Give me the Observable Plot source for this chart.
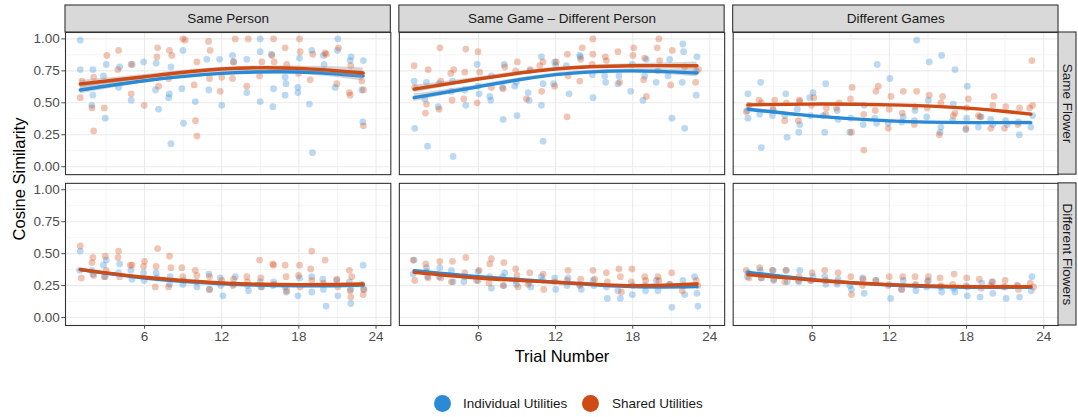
<!DOCTYPE html>
<html>
<head>
<meta charset="utf-8">
<script src="https://cdn.jsdelivr.net/npm/d3@7"></script>
<script src="https://cdn.jsdelivr.net/npm/@observablehq/plot@0.6"></script>
<style>
  body { margin: 0; background: #fff; font-family: "Liberation Sans", Arial, Helvetica, sans-serif; }
  #wrap { position: relative; width: 1078px; height: 417px; overflow: hidden; }
  #legend { position: absolute; left: 0; top: 390px; width: 1078px; height: 27px; font-size: 13.5px; color: #1a1a1a; }
  #legend .key { position: absolute; top: 5px; width: 17px; height: 17px; border-radius: 50%; }
  #legend .lab { position: absolute; top: 0; line-height: 27px; white-space: nowrap; }
</style>
</head>
<body>
<div id="wrap">
  <div id="chart"></div>
  <div id="legend"></div>
</div>
<script>
// ---------- categories ----------
const columns = ["Same Person", "Same Game – Different Person", "Different Games"];
const rows = ["Same Flower", "Different Flowers"];
const seriesNames = ["Individual Utilities", "Shared Utilities"];
const seriesColors = ["#2b8ad6", "#cf4a15"];

// ---------- axis ticks ----------
const xTicks = [6, 12, 18, 24];
const xMinorTicks = [3, 9, 15, 21];
const yTicks = [0, 0.25, 0.5, 0.75, 1];
const yMinorTicks = [0.125, 0.375, 0.625, 0.875];

// ---------- points: [trial (jittered), cosine similarity] ----------
// Same Person / Same Flower
const spSfInd = [[1.0,0.99],[1.0,0.76],[1.98,0.76],[1.98,0.56],[1.9,0.48],[3.02,0.8],[2.94,0.38],[2.8,0.71],[3.98,0.62],[4.06,0.78],[4.96,0.52],[5.04,0.8],[5.92,0.82],[6.9,0.81],[6.85,0.6],[7.09,0.45],[7.87,0.54],[8.05,0.18],[8.05,0.78],[7.92,0.57],[8.98,0.91],[8.9,0.61],[9.03,0.34],[9.94,0.51],[10.84,0.84],[11.0,0.6],[11.83,0.84],[12.0,0.48],[12.84,0.87],[12.92,0.82],[13.95,0.84],[13.95,0.58],[14.99,1.0],[14.99,0.9],[14.99,0.51],[15.87,0.88],[16.03,0.61],[15.97,0.47],[16.93,0.7],[17.0,0.65],[16.93,0.56],[17.92,0.62],[17.92,0.58],[18.05,0.85],[19.0,0.91],[18.82,0.49],[19.06,0.11],[19.9,0.87],[19.96,0.8],[21.03,1.0],[21.0,0.91],[20.82,0.62],[21.98,0.83],[22.06,0.86],[22.89,0.6],[22.97,0.35],[23.02,0.83]];
const spSfSh = [[1.0,0.54],[1.13,0.67],[2.04,0.7],[1.91,0.46],[2.04,0.28],[3.07,0.87],[2.87,0.46],[3.98,0.91],[3.93,0.76],[4.96,0.8],[4.96,0.57],[5.97,0.48],[7.01,0.93],[6.96,0.86],[7.09,0.63],[7.94,0.91],[8.12,0.87],[7.87,0.69],[8.98,1.0],[9.16,0.99],[9.86,0.64],[9.96,0.36],[10.07,0.24],[10.07,0.82],[10.97,0.98],[11.1,0.91],[11.05,0.69],[11.88,0.59],[12.0,0.7],[13.05,1.0],[12.92,0.82],[12.84,0.69],[14.06,1.0],[13.95,0.63],[14.94,0.71],[15.12,0.82],[16.03,1.0],[15.9,0.87],[16.08,0.82],[16.93,0.93],[17.06,0.8],[18.05,1.0],[18.1,0.9],[17.97,0.73],[18.88,0.68],[19.08,0.88],[20.04,0.89],[20.12,0.88],[21.08,0.93],[20.95,0.65],[21.98,0.56],[21.93,0.58],[22.04,0.79],[22.89,0.67],[23.02,0.6],[23.02,0.32]];
// Same Game – Different Person / Same Flower
const gsSfInd = [[1.0,0.67],[1.05,0.3],[1.96,0.66],[2.04,0.16],[1.83,0.53],[2.94,0.65],[2.87,0.47],[4.03,0.08],[3.98,0.67],[3.9,0.59],[4.94,0.6],[5.02,0.48],[5.9,0.8],[6.05,0.57],[5.97,0.63],[6.88,0.55],[6.96,0.52],[7.01,0.71],[7.92,0.37],[8.0,0.8],[7.87,0.62],[8.82,0.63],[8.95,0.66],[9.0,0.4],[9.86,0.58],[9.94,0.52],[9.99,0.75],[10.9,0.86],[11.03,0.65],[10.9,0.48],[11.03,0.2],[11.85,0.65],[11.93,0.82],[12.01,0.79],[12.84,0.79],[13.05,0.57],[13.88,0.87],[13.93,0.86],[14.86,0.72],[14.91,0.54],[15.9,0.66],[15.82,0.71],[16.85,0.65],[16.93,0.71],[17.84,0.59],[17.97,0.8],[18.8,0.52],[18.93,0.71],[19.06,0.84],[19.83,0.66],[19.96,0.75],[20.87,0.84],[21.05,0.38],[20.74,0.71],[21.9,0.96],[21.96,0.9],[21.85,0.66],[22.04,0.3],[23.0,0.86],[22.94,0.56],[22.94,0.75]];
const gsSfSh = [[1.0,0.79],[1.05,0.62],[2.09,0.76],[1.96,0.49],[1.88,0.42],[3.0,0.93],[3.07,0.67],[2.94,0.45],[4.08,0.76],[3.85,0.73],[3.95,0.52],[5.02,0.92],[4.94,0.74],[4.86,0.53],[5.97,0.9],[6.1,0.74],[5.9,0.5],[7.01,0.62],[7.92,0.61],[8.05,0.78],[9.03,0.82],[8.9,0.75],[10.04,0.76],[9.73,0.53],[11.03,0.82],[10.92,0.59],[10.77,0.79],[11.93,0.63],[12.06,0.82],[12.92,0.88],[12.89,0.39],[12.97,0.71],[14.08,0.93],[13.88,0.67],[13.95,0.84],[14.9,1.0],[14.9,0.88],[14.85,0.8],[15.87,0.86],[15.95,0.83],[16.85,0.9],[16.98,0.66],[18.07,0.93],[18.02,0.87],[18.93,0.85],[18.85,0.68],[19.06,0.55],[20.04,1.0],[19.91,0.93],[20.09,0.83],[21.08,0.91],[20.95,0.64],[22.04,0.78],[22.89,0.66],[23.12,0.76]];
// Different Games / Same Flower
const dgSfInd = [[1.0,0.57],[1.0,0.38],[0.95,0.44],[1.99,0.66],[2.04,0.15],[1.91,0.41],[2.95,0.44],[2.9,0.4],[3.94,0.57],[4.04,0.23],[3.86,0.4],[4.84,0.45],[4.95,0.27],[5.03,0.33],[5.86,0.4],[6.06,0.58],[5.81,0.54],[7.05,0.65],[6.97,0.27],[6.84,0.4],[7.94,0.44],[8.01,0.37],[8.92,0.27],[9.0,0.38],[10.04,0.48],[9.96,0.33],[11.05,0.8],[10.87,0.38],[11.0,0.34],[12.04,0.69],[11.91,0.34],[13.08,0.39],[12.95,0.35],[14.12,0.99],[13.99,0.44],[13.94,0.36],[15.1,0.82],[15.03,0.52],[14.9,0.39],[16.06,0.87],[16.01,0.31],[15.94,0.27],[17.1,0.76],[16.97,0.49],[16.92,0.36],[18.06,0.63],[17.94,0.29],[18.01,0.38],[18.92,0.31],[19.13,0.39],[19.88,0.37],[20.04,0.33],[21.03,0.36],[21.16,0.33],[22.1,0.25],[22.03,0.35],[23.0,0.31],[23.14,0.4]];
const dgSfSh = [[0.87,0.43],[1.08,0.48],[1.86,0.52],[2.04,0.5],[3.08,0.52],[2.95,0.45],[3.86,0.36],[3.99,0.5],[5.0,0.52],[4.92,0.36],[5.03,0.51],[5.94,0.48],[6.12,0.54],[7.1,0.46],[7.05,0.41],[8.09,0.5],[7.88,0.46],[8.97,0.53],[9.1,0.62],[9.05,0.27],[10.01,0.41],[10.01,0.13],[10.95,0.59],[11.13,0.63],[10.9,0.44],[12.12,0.55],[11.99,0.45],[11.91,0.3],[13.08,0.59],[13.0,0.42],[14.12,0.59],[13.99,0.47],[13.94,0.33],[15.1,0.56],[14.95,0.46],[16.0,0.5],[16.14,0.55],[15.88,0.25],[17.1,0.42],[16.97,0.4],[18.14,0.53],[18.01,0.46],[17.96,0.3],[18.92,0.4],[19.05,0.39],[20.14,0.55],[20.04,0.48],[19.88,0.3],[21.05,0.47],[20.95,0.3],[22.12,0.46],[21.99,0.33],[23.08,0.83],[23.13,0.48],[22.9,0.46]];
// Same Person / Different Flowers
const spDfInd = [[1.0,0.52],[0.95,0.37],[1.91,0.37],[1.98,0.34],[3.02,0.45],[2.94,0.32],[2.8,0.41],[3.98,0.35],[4.06,0.42],[4.94,0.37],[5.02,0.3],[5.92,0.35],[5.97,0.29],[6.9,0.35],[6.96,0.31],[7.99,0.32],[7.94,0.26],[8.98,0.26],[9.03,0.29],[10.07,0.24],[10.02,0.28],[11.0,0.34],[11.05,0.22],[11.88,0.31],[12.09,0.17],[11.93,0.25],[13.05,0.32],[12.92,0.26],[14.0,0.25],[14.08,0.21],[14.99,0.28],[15.04,0.24],[15.97,0.25],[16.03,0.28],[17.01,0.2],[16.93,0.24],[17.92,0.17],[18.05,0.31],[19.0,0.32],[19.0,0.2],[19.86,0.3],[20.12,0.09],[19.91,0.22],[21.03,0.17],[20.95,0.29],[22.04,0.11],[21.93,0.28],[22.04,0.22],[23.0,0.41],[23.02,0.22],[22.89,0.26]];
const spDfSh = [[1.0,0.56],[1.08,0.31],[1.98,0.47],[1.91,0.43],[2.04,0.33],[2.94,0.48],[3.02,0.37],[2.87,0.32],[3.98,0.52],[3.93,0.47],[4.06,0.32],[4.89,0.41],[5.02,0.41],[6.0,0.44],[5.92,0.4],[7.01,0.54],[6.9,0.4],[6.83,0.24],[7.94,0.48],[8.05,0.39],[7.87,0.24],[8.9,0.39],[8.98,0.32],[9.94,0.37],[10.07,0.33],[11.05,0.22],[11.05,0.32],[12.01,0.29],[12.92,0.3],[12.87,0.25],[13.95,0.32],[14.0,0.28],[14.94,0.45],[15.04,0.31],[15.12,0.24],[15.97,0.42],[16.03,0.41],[16.08,0.26],[16.93,0.41],[17.01,0.32],[17.06,0.21],[18.05,0.41],[17.97,0.33],[18.1,0.24],[19.0,0.52],[18.92,0.38],[19.0,0.29],[20.04,0.45],[19.91,0.27],[20.95,0.3],[21.03,0.24],[21.93,0.37],[21.98,0.21],[22.04,0.16],[22.11,0.32],[23.0,0.18],[23.07,0.22]];
// Same Game – Different Person / Different Flowers
const gsDfInd = [[1.0,0.45],[0.92,0.34],[1.96,0.39],[2.04,0.32],[2.99,0.39],[2.94,0.32],[3.9,0.37],[4.03,0.28],[4.94,0.32],[4.86,0.28],[5.84,0.29],[5.97,0.36],[6.88,0.32],[7.01,0.23],[7.87,0.32],[8.05,0.35],[7.97,0.25],[8.95,0.26],[8.9,0.29],[9.94,0.28],[10.07,0.24],[11.0,0.29],[10.9,0.32],[11.93,0.31],[12.01,0.22],[12.97,0.31],[12.89,0.25],[13.88,0.26],[14.0,0.22],[14.91,0.29],[14.98,0.25],[16.03,0.15],[15.95,0.24],[17.04,0.15],[16.85,0.21],[17.97,0.18],[18.02,0.25],[19.0,0.21],[18.93,0.25],[19.96,0.21],[19.83,0.29],[21.05,0.08],[20.87,0.26],[21.9,0.29],[22.04,0.18],[22.81,0.32],[23.07,0.09],[23.0,0.19]];
const gsDfSh = [[0.92,0.45],[1.05,0.29],[1.91,0.42],[1.96,0.36],[2.09,0.31],[2.99,0.44],[3.07,0.31],[3.98,0.44],[3.9,0.28],[5.02,0.47],[4.94,0.35],[6.05,0.37],[5.97,0.29],[7.01,0.46],[6.88,0.42],[6.83,0.27],[7.97,0.43],[7.92,0.25],[8.9,0.38],[9.0,0.33],[9.08,0.24],[9.99,0.35],[9.86,0.26],[11.03,0.34],[11.08,0.22],[11.93,0.28],[12.97,0.37],[12.89,0.29],[13.95,0.3],[13.88,0.25],[14.91,0.37],[15.04,0.3],[15.95,0.35],[16.03,0.28],[16.93,0.38],[17.04,0.32],[17.12,0.2],[17.94,0.38],[17.89,0.28],[18.93,0.32],[19.0,0.29],[19.96,0.32],[20.04,0.29],[21.03,0.35],[20.87,0.26],[21.96,0.25],[21.85,0.21],[22.94,0.29],[23.07,0.25]];
// Different Games / Different Flowers
const dgDfInd = [[1.0,0.35],[0.95,0.32],[1.96,0.37],[2.04,0.31],[2.95,0.37],[3.0,0.29],[3.99,0.37],[4.06,0.28],[5.03,0.37],[4.97,0.28],[5.94,0.29],[6.06,0.32],[7.05,0.26],[6.97,0.32],[7.94,0.26],[8.01,0.3],[9.05,0.22],[8.92,0.25],[9.91,0.31],[10.04,0.19],[10.95,0.29],[12.09,0.15],[11.99,0.26],[13.08,0.29],[12.95,0.22],[14.06,0.21],[13.99,0.25],[15.03,0.29],[14.9,0.24],[16.06,0.2],[15.99,0.24],[17.1,0.2],[16.97,0.23],[18.06,0.17],[17.96,0.25],[19.05,0.16],[19.18,0.27],[20.04,0.19],[19.96,0.28],[21.08,0.15],[21.0,0.24],[22.12,0.16],[21.99,0.25],[23.08,0.32],[23.03,0.21]];
const dgDfSh = [[0.87,0.37],[1.08,0.31],[1.91,0.39],[2.04,0.31],[2.9,0.37],[3.0,0.3],[3.94,0.37],[3.86,0.28],[4.97,0.32],[4.92,0.29],[5.99,0.35],[5.86,0.29],[6.97,0.37],[7.05,0.29],[8.01,0.35],[7.94,0.28],[9.05,0.18],[9.0,0.32],[9.96,0.3],[9.91,0.25],[10.95,0.29],[11.99,0.32],[11.91,0.25],[13.03,0.32],[12.95,0.22],[13.99,0.32],[14.06,0.26],[15.03,0.32],[14.95,0.28],[15.94,0.31],[16.01,0.25],[17.03,0.34],[16.92,0.26],[18.01,0.31],[18.06,0.24],[18.99,0.3],[19.13,0.23],[20.04,0.28],[19.88,0.25],[21.0,0.29],[20.87,0.24],[21.91,0.25],[22.04,0.22],[22.95,0.27],[23.21,0.24]];

// ---------- smooth fits (read at these trials) and band half-widths ----------
const fitTrials = [1, 6, 12, 18, 23];
const spSfIndFit = [0.600, 0.673, 0.730, 0.741, 0.710];
const spSfShFit  = [0.647, 0.704, 0.764, 0.769, 0.733];
const spSfBand   = [0.030, 0.018, 0.014, 0.018, 0.040];
const gsSfIndFit = [0.540, 0.626, 0.720, 0.750, 0.733];
const gsSfShFit  = [0.607, 0.686, 0.764, 0.790, 0.790];
const gsSfBand   = [0.030, 0.016, 0.013, 0.016, 0.030];
const dgSfIndFit = [0.450, 0.398, 0.359, 0.345, 0.345];
const dgSfShFit  = [0.484, 0.490, 0.484, 0.458, 0.411];
const dgSfBand   = [0.014, 0.008, 0.007, 0.008, 0.014];
const spDfIndFit = [0.375, 0.310, 0.265, 0.248, 0.255];
const spDfShFit  = [0.375, 0.315, 0.271, 0.258, 0.263];
const spDfBand   = [0.012, 0.006, 0.005, 0.006, 0.012];
const gsDfIndFit = [0.367, 0.320, 0.276, 0.242, 0.242];
const gsDfShFit  = [0.354, 0.310, 0.276, 0.250, 0.263];
const gsDfBand   = [0.012, 0.006, 0.005, 0.006, 0.012];
const dgDfIndFit = [0.354, 0.297, 0.255, 0.237, 0.237];
const dgDfShFit  = [0.336, 0.294, 0.258, 0.242, 0.242];
const dgDfBand   = [0.010, 0.005, 0.004, 0.005, 0.010];

// ---------- assemble tables ----------
const panels = [
  {col: columns[0], row: rows[0], pts: [spSfInd, spSfSh], fit: [spSfIndFit, spSfShFit], band: spSfBand},
  {col: columns[1], row: rows[0], pts: [gsSfInd, gsSfSh], fit: [gsSfIndFit, gsSfShFit], band: gsSfBand},
  {col: columns[2], row: rows[0], pts: [dgSfInd, dgSfSh], fit: [dgSfIndFit, dgSfShFit], band: dgSfBand},
  {col: columns[0], row: rows[1], pts: [spDfInd, spDfSh], fit: [spDfIndFit, spDfShFit], band: spDfBand},
  {col: columns[1], row: rows[1], pts: [gsDfInd, gsDfSh], fit: [gsDfIndFit, gsDfShFit], band: gsDfBand},
  {col: columns[2], row: rows[1], pts: [dgDfInd, dgDfSh], fit: [dgDfIndFit, dgDfShFit], band: dgDfBand}
];
const points = [];
const fits = [[], []];
for (const p of panels) {
  seriesNames.forEach((s, si) => {
    for (const [t, v] of p.pts[si]) points.push({trial: t, sim: v, series: s, col: p.col, row: p.row});
    fitTrials.forEach((t, i) => fits[si].push({trial: t, sim: p.fit[si][i], lo: p.fit[si][i] - p.band[i], hi: p.fit[si][i] + p.band[i], series: s, col: p.col, row: p.row}));
  });
}
const topStrips = columns.map(c => ({col: c, row: rows[0]}));
const rightStrips = rows.map(r => ({col: columns[2], row: r}));

// ---------- layout ----------
const W = 1078, H = 380;
const mTop = 32, mRight = 20, mBottom = 55, mLeft = 65;
const fxPad = 0.0255, fyPad = 0.0577;
const bandW = d3.scaleBand().domain(columns).range([mLeft, W - mRight]).paddingInner(fxPad).paddingOuter(0).bandwidth();
const bandH = d3.scaleBand().domain(rows).range([mTop, H - mBottom]).paddingInner(fyPad).paddingOuter(0).bandwidth();
const stripH = 27, stripW = 18;
const gridColor = "#ebebeb";

const plot = Plot.plot({
  width: W, height: H,
  marginTop: mTop, marginRight: mRight, marginBottom: mBottom, marginLeft: mLeft,
  style: {fontFamily: '"Liberation Sans", Arial, Helvetica, sans-serif', fontSize: "13.5px", background: "white", overflow: "visible"},
  fx: {domain: columns, paddingInner: fxPad, paddingOuter: 0, round: false, axis: null, label: null},
  fy: {domain: rows, paddingInner: fyPad, paddingOuter: 0, round: false, axis: null, label: null},
  x: {domain: [-0.15, 25.15]},
  y: {domain: [-0.062, 1.05]},
  color: {domain: seriesNames, range: seriesColors},
  marks: [
    Plot.ruleX(xMinorTicks, {stroke: gridColor, strokeWidth: 0.55}),
    Plot.ruleY(yMinorTicks, {stroke: gridColor, strokeWidth: 0.55}),
    Plot.ruleX(xTicks, {stroke: gridColor, strokeWidth: 1.1}),
    Plot.ruleY(yTicks, {stroke: gridColor, strokeWidth: 1.1}),
    Plot.dot(points, {x: "trial", y: "sim", fx: "col", fy: "row", fill: "series", r: 3.4, fillOpacity: 0.32, stroke: "none"}),
    ...seriesNames.flatMap((s, si) => [
      Plot.areaY(fits[si], {x: "trial", y1: "lo", y2: "hi", fx: "col", fy: "row", fill: "#999999", fillOpacity: 0.4, curve: "natural"}),
      Plot.line(fits[si], {x: "trial", y: "sim", fx: "col", fy: "row", stroke: seriesColors[si], strokeWidth: 3.4, curve: "natural"})
    ]),
    Plot.frame({stroke: "#333333", strokeWidth: 1.1}),
    Plot.rect(topStrips, {fx: "col", fy: "row", fill: "#d9d9d9", stroke: "#333333", strokeWidth: 1.1, insetTop: -stripH, insetBottom: bandH}),
    Plot.text(topStrips, {fx: "col", fy: "row", text: "col", frameAnchor: "top", lineAnchor: "middle", textAnchor: "middle", dy: -stripH / 2, fontSize: 13.5, fill: "#1a1a1a"}),
    Plot.rect(rightStrips, {fx: "col", fy: "row", fill: "#d9d9d9", stroke: "#333333", strokeWidth: 1.1, insetLeft: bandW, insetRight: -stripW}),
    Plot.text(rightStrips, {fx: "col", fy: "row", text: "row", frameAnchor: "right", lineAnchor: "middle", textAnchor: "middle", dx: stripW / 2, rotate: 90, fontSize: 13.5, fill: "#1a1a1a"}),
    Plot.axisX({ticks: xTicks, tickSize: 3.7, tickPadding: 2, fontSize: 13.5, color: "#4d4d4d", label: "Trial Number", labelArrow: "none", labelAnchor: "center", labelOffset: 36}),
    Plot.axisY({ticks: yTicks, tickFormat: d3.format(".2f"), tickSize: 3.7, tickPadding: 2, fontSize: 13.5, color: "#4d4d4d", label: "Cosine Similarity", labelArrow: "none", labelAnchor: "center", labelOffset: 52})
  ]
});
document.getElementById("chart").append(plot);

// axis titles: larger, black
d3.select(plot).selectAll('[aria-label="x-axis label"], [aria-label="y-axis label"]')
  .attr("font-size", 16.5).attr("fill", "black")
  .selectAll("text").attr("font-size", 16.5).attr("fill", "black");

// ---------- legend (HTML, below the SVG) ----------
const legend = document.getElementById("legend");
const legendPos = [[433.5, 463], [581.5, 612]];
seriesNames.forEach((s, i) => {
  const k = document.createElement("span");
  k.className = "key"; k.style.left = legendPos[i][0] + "px"; k.style.background = seriesColors[i];
  const t = document.createElement("span");
  t.className = "lab"; t.style.left = legendPos[i][1] + "px"; t.textContent = s;
  legend.append(k, t);
});
</script>
</body>
</html>
